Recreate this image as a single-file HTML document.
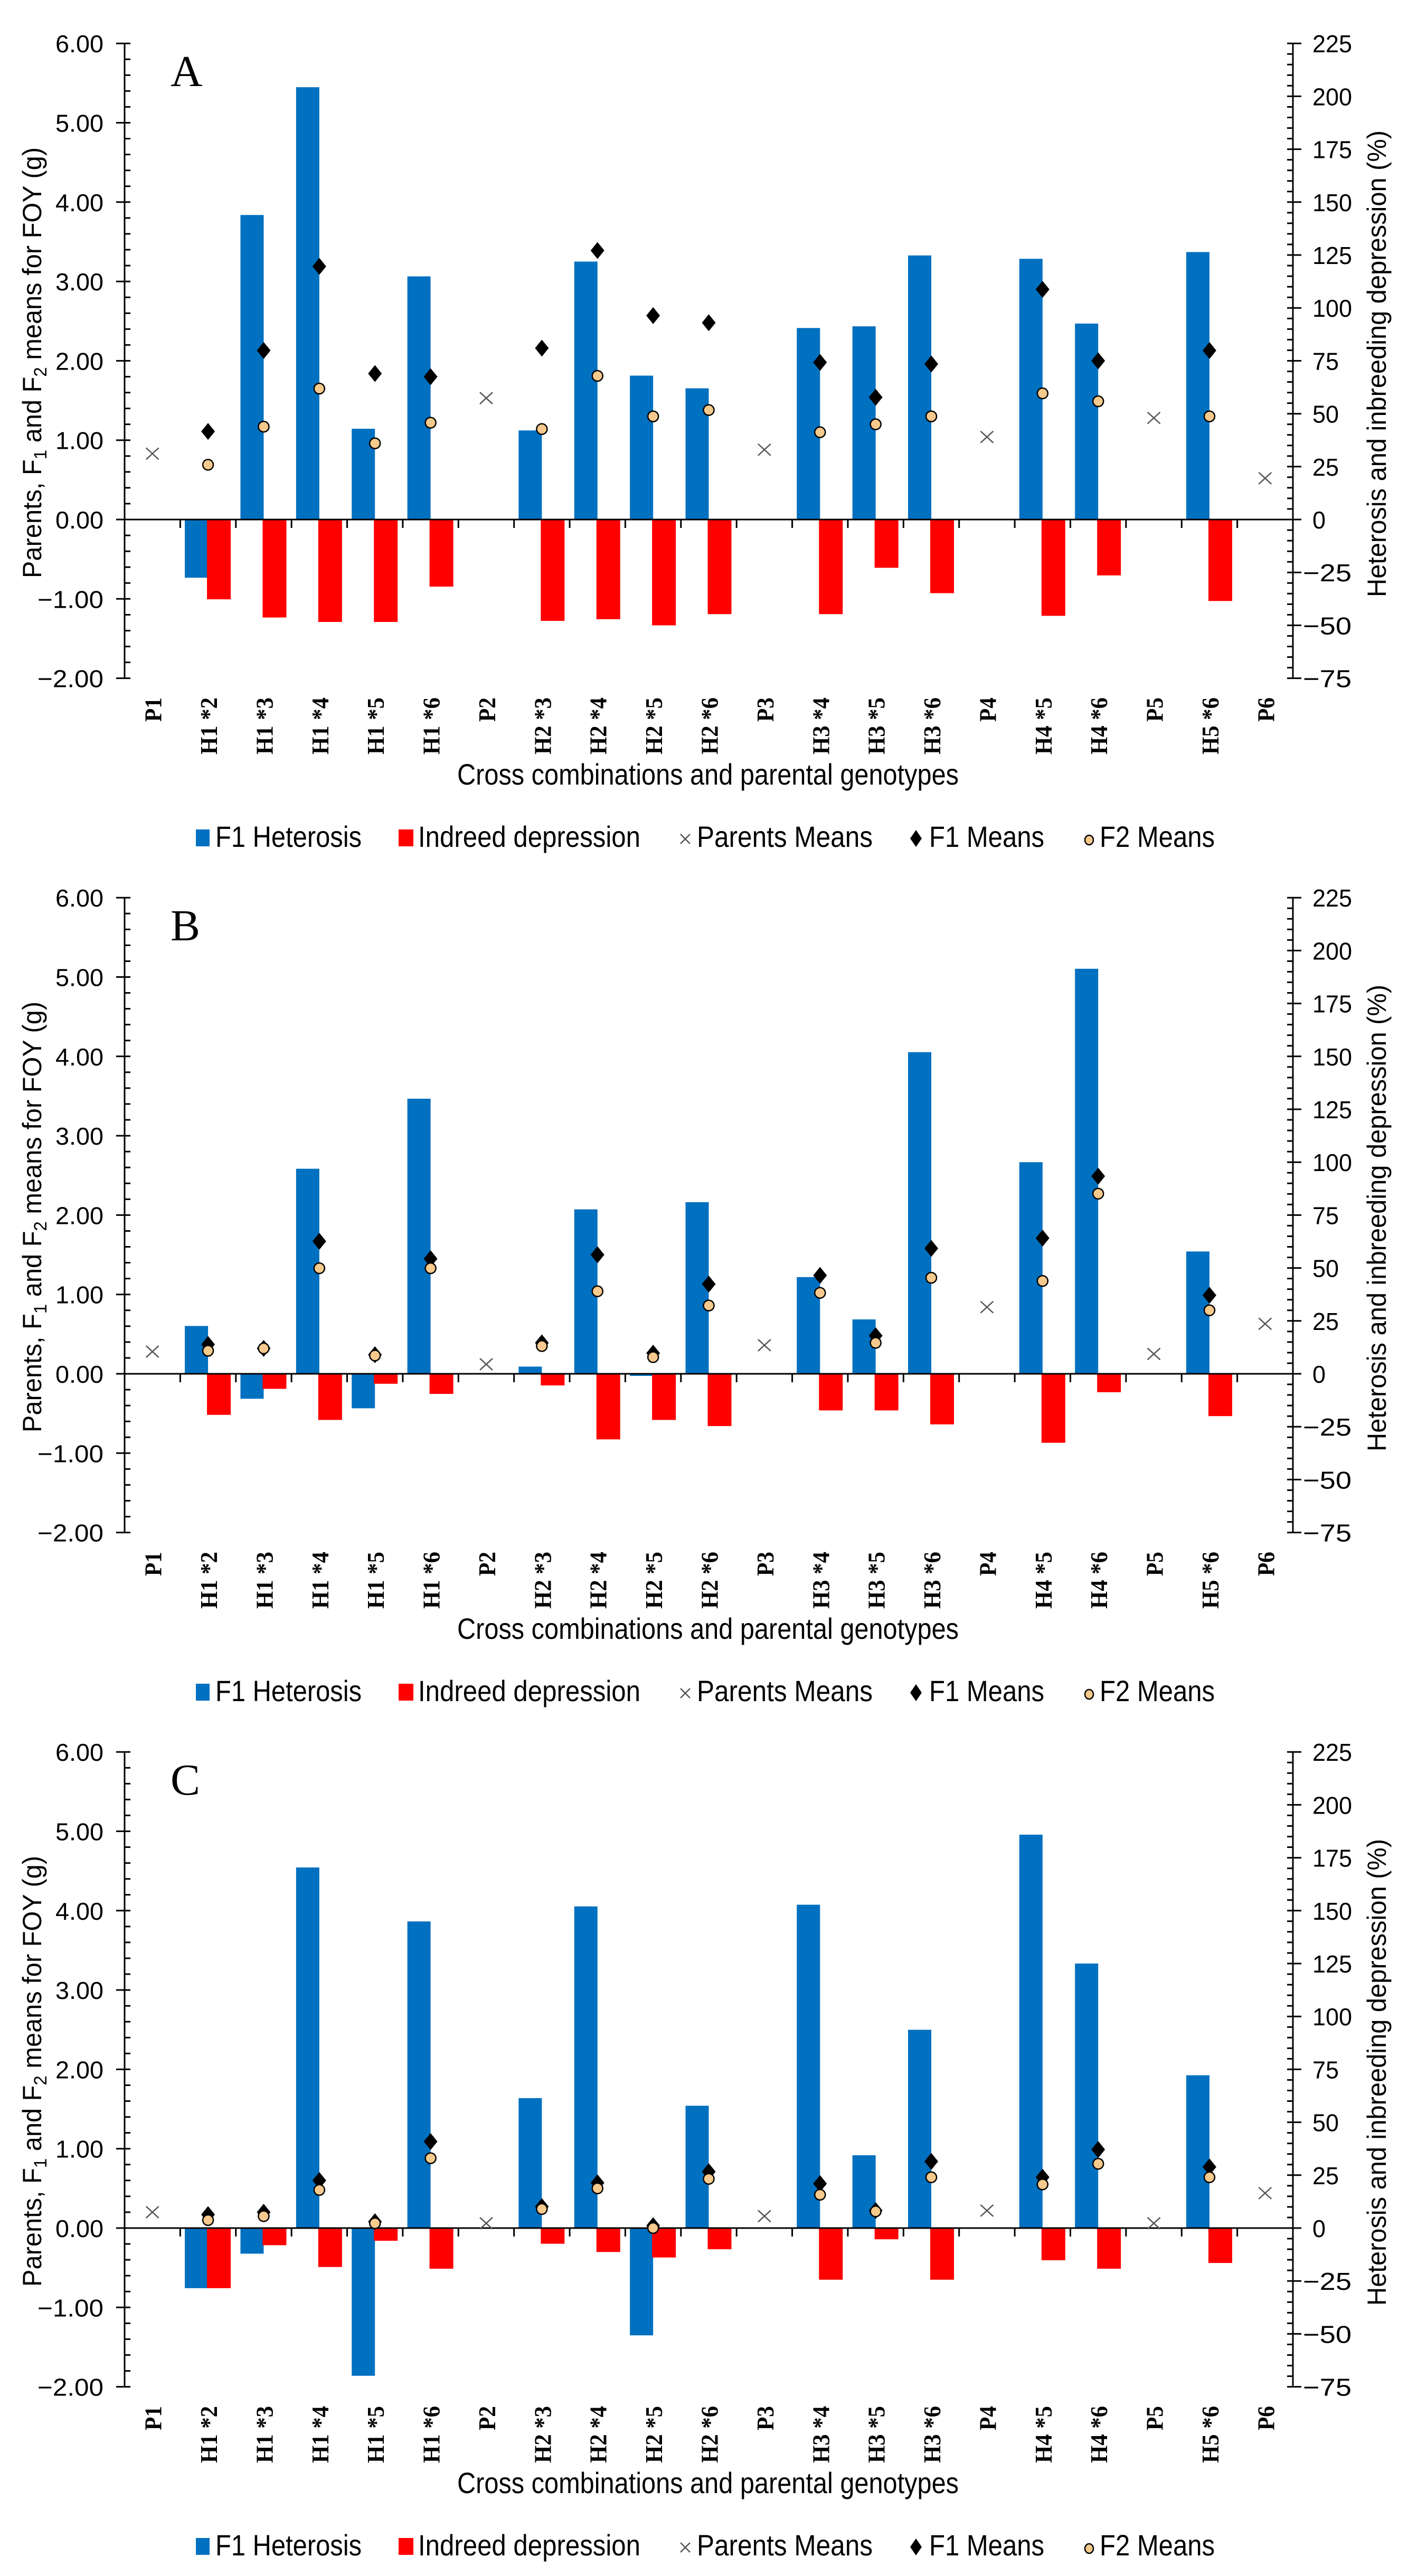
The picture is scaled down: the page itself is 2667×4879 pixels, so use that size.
<!DOCTYPE html>
<html><head><meta charset="utf-8">
<style>
html,body{margin:0;padding:0;background:#fff;}
svg{display:block;}
text{font-family:"Liberation Sans",sans-serif;fill:#000;}
.serif{font-family:"Liberation Serif",serif;}
</style></head>
<body>
<svg id="chart" xmlns="http://www.w3.org/2000/svg" width="2667" height="4879" viewBox="0 0 2667 4879"></svg>
<script>
const categories = ["P1","H1 *2","H1 *3","H1 *4","H1 *5","H1 *6","P2","H2 *3","H2 *4","H2 *5","H2 *6","P3","H3 *4","H3 *5","H3 *6","P4","H4 *5","H4 *6","P5","H5 *6","P6"];
const crossIdx = [1,2,3,4,5,7,8,9,10,12,13,14,16,17,19];
const parentIdx = [0,6,11,15,18,20];
const leftTicks = ["6.00","5.00","4.00","3.00","2.00","1.00","0.00","-1.00","-2.00"];
const leftTickVals = [6,5,4,3,2,1,0,-1,-2];
const rightTicks = ["225","200","175","150","125","100","75","50","25","0","-25","-50","-75"];
const rightTickVals = [225,200,175,150,125,100,75,50,25,0,-25,-50,-75];

// Panel A
const heterosisA = [-27.5,143.9,204.3,42.9,114.9,42.1,121.9,68.0,62.0,90.5,91.3,124.8,123.2,92.6,126.4];
const depressionA = [-37.7,-46.3,-48.4,-48.4,-31.7,-47.9,-47.1,-50.0,-44.7,-44.7,-22.8,-34.8,-45.5,-26.4,-38.5];
const parentsA = [0.83,1.53,0.88,1.04,1.28,0.52];
const f1A = [1.11,2.13,3.19,1.84,1.80,2.16,3.39,2.57,2.48,1.98,1.54,1.96,2.90,2.00,2.13];
const f2A = [0.69,1.17,1.65,0.96,1.22,1.14,1.81,1.30,1.38,1.10,1.20,1.30,1.59,1.49,1.30];
// Panel B
const heterosisB = [22.6,-11.8,96.9,-16.3,130.0,3.4,77.7,-1.0,81.1,45.7,25.7,152.0,100.0,191.4,57.8];
const depressionB = [-19.4,-7.1,-21.8,-4.7,-9.5,-5.5,-31.0,-21.8,-24.7,-17.3,-17.3,-23.9,-32.6,-8.7,-20.0];
const parentsB = [0.28,0.12,0.36,0.84,0.25,0.63];
const f1B = [0.37,0.32,1.67,0.24,1.45,0.39,1.50,0.26,1.13,1.24,0.48,1.58,1.71,2.49,0.99];
const f2B = [0.29,0.32,1.33,0.23,1.33,0.35,1.04,0.21,0.86,1.02,0.39,1.21,1.17,2.27,0.80];
// Panel C
const heterosisC = [-28.4,-12.1,170.4,-69.8,144.9,61.4,152.0,-50.7,57.8,152.8,34.4,93.7,185.9,125.0,72.2];
const depressionC = [-28.4,-8.1,-18.4,-6.0,-19.2,-7.4,-11.3,-13.9,-10.0,-24.4,-5.3,-24.4,-15.2,-19.2,-16.5];
const parentsC = [0.20,0.06,0.15,0.22,0.06,0.44];
const f1C = [0.17,0.20,0.60,0.08,1.09,0.27,0.57,0.03,0.71,0.56,0.22,0.84,0.64,0.99,0.77];
const f2C = [0.10,0.15,0.48,0.06,0.88,0.24,0.50,0.00,0.62,0.42,0.21,0.64,0.55,0.81,0.64];

const NS = "http://www.w3.org/2000/svg";
const svg = document.getElementById("chart");
function mk(tag, attrs, parent){
  const e = document.createElementNS(NS, tag);
  for (const k in attrs) e.setAttribute(k, attrs[k]);
  (parent||svg).appendChild(e);
  return e;
}
const X0 = 236, X1 = 2449, Y0 = 984, PXG = 150.3, PXP = PXG/37.5;
const step = (X1 - X0) / categories.length;
function xc(i){ return X0 + step*(i+0.5); }
function yg(v){ return Y0 - v*PXG; }
function yp(v){ return Y0 - v*PXP; }

function panel(letter, offset, het, dep, par, f1, f2){
  const g = mk("g", {transform:"translate(0,"+offset+")"});
  
  
  het.forEach((v,k)=>{
    const i = crossIdx[k], y = yp(v);
    const r = mk("rect", {x:xc(i)-44, y:Math.min(y,Y0), width:44, height:Math.abs(Y0-y), fill:"#0070C0"}, g);
    
    
  });
  dep.forEach((v,k)=>{
    const i = crossIdx[k], y = yp(v);
    const r = mk("rect", {x:xc(i)-2, y:Math.min(y,Y0), width:45, height:Math.abs(Y0-y), fill:"#FF0000"}, g);
    
    
  });
  const ax = mk("g", {stroke:"#000","stroke-width":3}, g);
  
  
  mk("line",{x1:X0,y1:yg(6),x2:X0,y2:yg(-2)},ax);
  mk("line",{x1:X1,y1:yp(225),x2:X1,y2:yp(-75)},ax);
  mk("line",{x1:X0,y1:Y0,x2:X1,y2:Y0},ax);
  for (let v=-2; v<=6.001; v+=0.2){
    const major = Math.abs(v-Math.round(v))<0.01;
    mk("line",{x1:major?X0-16:X0,y1:yg(v),x2:X0+11,y2:yg(v)},ax);
  }
  for (let v=-75; v<=225; v+=5){
    const major = v%25===0;
    mk("line",{x1:X1-11,y1:yp(v),x2:major?X1+16:X1,y2:yp(v)},ax);
  }
  for (let i=1;i<categories.length;i++){
    mk("line",{x1:X0+step*i,y1:Y0,x2:X0+step*i,y2:Y0+16},ax);
  }
  leftTicks.forEach((t,k)=>{
    const s = t.replace("-","\u2212");
    const e = mk("text",{x:196,y:yg(leftTickVals[k])+17,"text-anchor":"end","font-size":46,textLength:s.length>4?125:91,lengthAdjust:"spacingAndGlyphs"},g);
    e.textContent = s;
    
    
  });
  rightTicks.forEach((t,k)=>{
    const s = t.replace("-","\u2212");
    const neg = s.charAt(0)==="\u2212";
    const e = mk("text",{x:neg?2468:2486,y:yp(rightTickVals[k])+17,"font-size":46,textLength:neg?92:s.length*25,lengthAdjust:"spacingAndGlyphs"},g);
    e.textContent = s;
    
    
  });
  categories.forEach((c,i)=>{
    const e = mk("text",{transform:"translate("+(xc(i)+17)+",1321) rotate(-90)","text-anchor":"end","font-size":46,"font-weight":"bold","class":"serif",textLength:c.length>2?108:46,lengthAdjust:"spacingAndGlyphs"},g);
    e.textContent = c;
    
    
  });
  par.forEach((v,k)=>{
    const x = xc(parentIdx[k]), y = yg(v);
    const p = mk("path",{d:"M"+(x-12)+","+(y-11)+"L"+(x+12)+","+(y+11)+"M"+(x-12)+","+(y+11)+"L"+(x+12)+","+(y-11),stroke:"#555","stroke-width":2.5,fill:"none"},g);
    
    
  });
  f1.forEach((v,k)=>{
    const x = xc(crossIdx[k]), y = yg(v);
    const p = mk("path",{d:"M"+x+","+(y-16)+"L"+(x+13)+","+y+"L"+x+","+(y+16)+"L"+(x-13)+","+y+"Z",fill:"#000"},g);
    
    
  });
  f2.forEach((v,k)=>{
    const x = xc(crossIdx[k]), y = yg(v);
    const p = mk("ellipse",{cx:x,cy:y,rx:10,ry:10,fill:"#F6C98C",stroke:"#000","stroke-width":2.5},g);
    
    
  });
  const L = mk("text",{x:323,y:163,"font-size":84,"class":"serif"},g);
  L.textContent = letter;
  
  
  const yt = mk("text",{transform:"translate(78,687) rotate(-90)","text-anchor":"middle","font-size":50,textLength:816,lengthAdjust:"spacingAndGlyphs"},g);
  yt.innerHTML = 'Parents, F<tspan font-size="34" dy="10">1</tspan><tspan dy="-10"> and F</tspan><tspan font-size="34" dy="10">2</tspan><tspan dy="-10"> means for FOY (g)</tspan>';
  
  
  const rt = mk("text",{transform:"translate(2625,689) rotate(-90)","text-anchor":"middle","font-size":50,textLength:884,lengthAdjust:"spacingAndGlyphs"},g);
  rt.textContent = "Heterosis and inbreeding depression (%)";
  
  
  const xt = mk("text",{x:1341,y:1486,"text-anchor":"middle","font-size":56,textLength:950,lengthAdjust:"spacingAndGlyphs"},g);
  xt.textContent = "Cross combinations and parental genotypes";
  
  
  const lg = mk("g",{},g);
  
  
  const ly = 1584;
  mk("rect",{x:371,y:ly-13,width:26,height:32,fill:"#0070C0"},lg);
  mk("rect",{x:755,y:ly-13,width:28,height:32,fill:"#FF0000"},lg);
  mk("path",{d:"M1289,"+(ly-4)+"L1307,"+(ly+14)+"M1289,"+(ly+14)+"L1307,"+(ly-4),stroke:"#555","stroke-width":2.5},lg);
  mk("path",{d:"M1735,"+(ly-12)+"L1746,"+(ly+4)+"L1735,"+(ly+20)+"L1724,"+(ly+4)+"Z",fill:"#000"},lg);
  mk("ellipse",{cx:2063,cy:ly+7,rx:8,ry:9,fill:"#F6C98C",stroke:"#000","stroke-width":2.5},lg);
  const items = [["F1 Heterosis",408,277],["Indreed depression",792,421],["Parents Means",1320,333],["F1 Means",1760,218],["F2 Means",2083,218]];
  items.forEach(it=>{
    const e = mk("text",{x:it[1],y:ly+20,"font-size":56,textLength:it[2],lengthAdjust:"spacingAndGlyphs"},lg);
    e.textContent = it[0];
    
    
  });
}
panel("A", 0, heterosisA, depressionA, parentsA, f1A, f2A);
panel("B", 1618, heterosisB, depressionB, parentsB, f1B, f2B);
panel("C", 3236, heterosisC, depressionC, parentsC, f1C, f2C);
</script>
</body></html>
